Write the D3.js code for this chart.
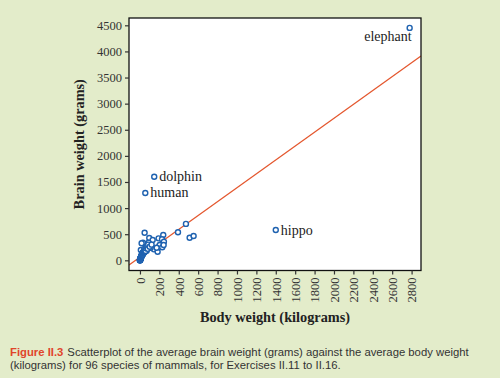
<!DOCTYPE html>
<html><head><meta charset="utf-8">
<script src="https://cdn.jsdelivr.net/npm/d3@7"></script>
<style>
html,body{margin:0;padding:0;background:#e3ecca;}
svg{display:block;}
</style></head>
<body>
<svg id="c" width="500" height="378"></svg>
<script>
// ---- data ----
const labeledNames = ["elephant", "dolphin", "human", "hippo"];
const labeledBody  = [2780, 147, 55, 1400];
const labeledBrain = [4450, 1600, 1290, 580];

const otherBody = [474, 392, 512, 553, 48, 31, 17, 96, 131, 192, 240, 227, 89, 144, 182, 203, 230, 247, 244, 9, 44, 69, 110, 172,
  0.02, 0.05, 0.1, 0.3, 0.5, 1, 2, 3, 4, 5, 6, 8, 10, 12, 14, 15, 18, 20, 22, 25, 28, 30, 35, 40,
  2, 1.5, 3.5, 5.5, 7, 9, 11, 13, 16, 19, 21, 24, 27, 33, 38, 45, 50, 55, 60, 65,
  0.8, 2.5, 4.5, 6.5, 8.5, 10.5, 12.5, 17, 23, 26, 29, 32, 36, 42, 47, 52, 58, 62, 70, 75, 80, 85, 100, 120];
const otherBrain = [697, 536, 433, 466, 529, 337, 326, 427, 389, 421, 485, 402, 337, 210, 165, 293, 249, 356, 293, 197, 216, 184, 241, 241,
  0.4, 1, 2, 3, 5, 8, 12, 20, 25, 30, 40, 50, 60, 70, 80, 90, 100, 110, 120, 130, 140, 150, 160, 170,
  6, 10, 15, 22, 35, 45, 55, 65, 75, 95, 105, 115, 125, 135, 145, 155, 175, 190, 200, 215,
  4, 18, 28, 38, 48, 62, 72, 85, 98, 108, 118, 128, 138, 148, 160, 170, 180, 230, 260, 280, 220, 300, 260, 300];

const fitIntercept = [60];
const fitSlope = [1.33];

const xTicks = [0, 200, 400, 600, 800, 1000, 1200, 1400, 1600, 1800, 2000, 2200, 2400, 2600, 2800];
const yTicks = [0, 500, 1000, 1500, 2000, 2500, 3000, 3500, 4000, 4500];

const xTitle = "Body weight (kilograms)";
const yTitle = "Brain weight (grams)";
const captionHead = "Figure II.3";
const captionLine1 = "Scatterplot of the average brain weight (grams) against the average body weight";
const captionLine2 = "(kilograms) for 96 species of mammals, for Exercises II.11 to II.16.";

// ---- drawing ----
const svg = d3.select("#c");
const L = 129, R = 421, T = 18, B = 270.5;
const x = d3.scaleLinear().domain([-113, 2897]).range([L, R]);
const y = d3.scaleLinear().domain([-195, 4640]).range([B, T]);
const serif = "'Liberation Serif','DejaVu Serif',serif";

svg.append("rect").attr("x", L).attr("y", T).attr("width", R - L).attr("height", B - T).attr("fill", "#fff");

svg.append("clipPath").attr("id", "clip").append("rect")
  .attr("x", L).attr("y", T).attr("width", R - L).attr("height", B - T);

// fit line
const xd = x.domain();
const lineData = xd.map(v => [v, fitIntercept[0] + fitSlope[0] * v]);
svg.append("path").attr("clip-path", "url(#clip)")
  .attr("d", d3.line().x(d => x(d[0])).y(d => y(d[1]))(lineData))
  .attr("stroke", "#e4572e").attr("stroke-width", 1.3).attr("fill", "none");

// points
const pts = otherBody.map((b, i) => ({b, w: otherBrain[i]}))
  .concat(labeledBody.map((b, i) => ({b, w: labeledBrain[i], n: labeledNames[i]})));
svg.append("g").selectAll("circle").data(pts).join("circle")
  .attr("cx", d => x(d.b)).attr("cy", d => y(d.w)).attr("r", 2.5)
  .attr("fill", "#fff").attr("stroke", "#1f62b0").attr("stroke-width", 1.4);

// labels
const lab = svg.append("g").attr("font-family", serif).attr("font-size", 14).attr("fill", "#222");
const lp = labeledNames.map((n, i) => ({n, b: labeledBody[i], w: labeledBrain[i]}));
lab.selectAll("text").data(lp).join("text")
  .attr("x", d => d.n === "elephant" ? x(d.b) + 2 : x(d.b) + 5)
  .attr("y", d => d.n === "elephant" ? y(d.w) + 13 : y(d.w))
  .attr("dy", d => d.n === "elephant" ? 0 : "0.32em")
  .attr("text-anchor", d => d.n === "elephant" ? "end" : "start")
  .text(d => d.n);

// frame
svg.append("rect").attr("x", L).attr("y", T).attr("width", R - L).attr("height", B - T)
  .attr("fill", "none").attr("stroke", "#111").attr("stroke-width", 1.3);

// axes
const ya = svg.append("g").attr("transform", `translate(${L},0)`)
  .call(d3.axisLeft(y).tickValues(yTicks).tickSize(4).tickPadding(3).tickFormat(d => d));
ya.select(".domain").remove();
ya.selectAll("text").attr("font-family", serif).attr("font-size", 12.5).attr("fill", "#333");
ya.selectAll("line").attr("stroke", "#333").attr("stroke-width", 1.2);

const xa = svg.append("g").attr("transform", `translate(0,${B})`)
  .call(d3.axisBottom(x).tickValues(xTicks).tickSize(4).tickFormat(d => d));
xa.select(".domain").remove();
xa.selectAll("line").attr("stroke", "#333").attr("stroke-width", 1.2);
xa.selectAll("text").attr("font-family", serif).attr("font-size", 12.5).attr("fill", "#333")
  .attr("transform", "rotate(-90)").attr("x", -7).attr("y", 0).attr("dy", "0.35em")
  .attr("text-anchor", "end");

// titles
svg.append("text").attr("x", 275).attr("y", 322).attr("text-anchor", "middle")
  .attr("font-family", serif).attr("font-weight", "bold").attr("font-size", 14.3).attr("fill", "#222")
  .text(xTitle);
svg.append("text").attr("transform", `translate(84,${(T + B) / 2}) rotate(-90)`).attr("text-anchor", "middle")
  .attr("font-family", serif).attr("font-weight", "bold").attr("font-size", 14.3).attr("fill", "#222")
  .text(yTitle);

// caption
const capFont = "'Liberation Sans','Open Sans',sans-serif";
const head = svg.append("text").attr("x", 10).attr("y", 355.5)
  .attr("font-family", capFont).attr("font-size", 11.3).attr("font-weight", "bold").attr("fill", "#e0452a")
  .text(captionHead);
const hw = head.node().getComputedTextLength();
svg.append("text").attr("x", 10 + hw + 4).attr("y", 355.5)
  .attr("font-family", capFont).attr("font-size", 11.3).attr("fill", "#333").text(captionLine1);
svg.append("text").attr("x", 10).attr("y", 368.8)
  .attr("font-family", capFont).attr("font-size", 11.3).attr("fill", "#333").text(captionLine2);
</script>
</body></html>
